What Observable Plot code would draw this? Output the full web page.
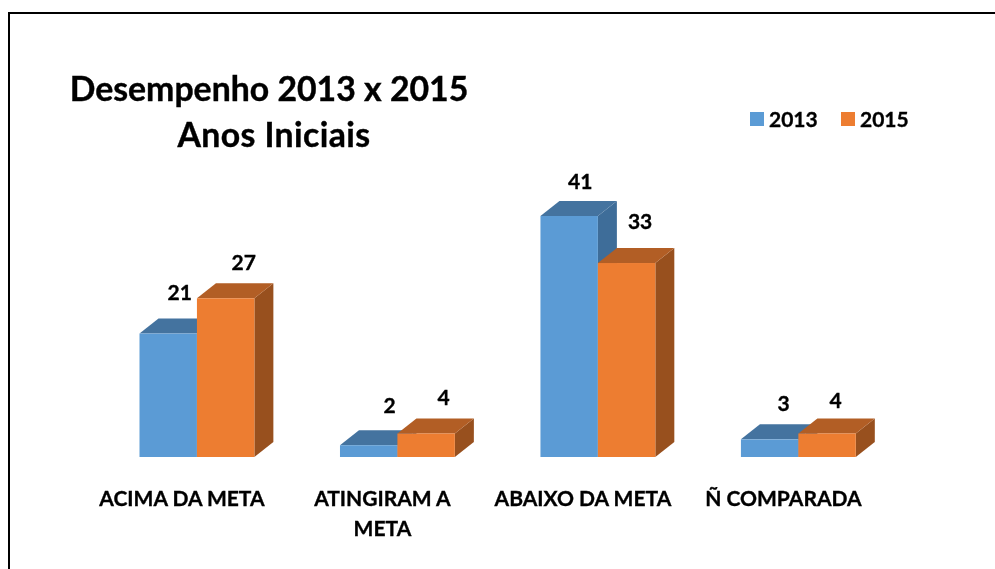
<!DOCTYPE html>
<html lang="pt">
<head>
<meta charset="utf-8">
<script src="https://cdn.jsdelivr.net/npm/d3@7"></script>
<script src="https://cdn.jsdelivr.net/npm/@observablehq/plot@0.6"></script>
<style>
html,body{margin:0;padding:0;background:#fff;width:995px;height:569px;overflow:hidden}
#frame{position:relative;width:995px;height:569px;font-family:Lato,sans-serif;font-weight:700;color:#000;filter:blur(0.35px)}
#border{position:absolute;left:8px;top:12px;right:-4px;bottom:-4px;border:2.5px solid #000;box-sizing:border-box}
#title{position:absolute;left:39px;width:460px;top:65px;text-align:center;font-size:33.8px;line-height:46px;-webkit-text-stroke:0.4px #000}
#title span{position:relative;left:5px;letter-spacing:0.4px}
#legend{position:absolute;left:750px;top:105px;display:flex;align-items:center;font-size:21px;line-height:28px;height:28px;-webkit-text-stroke:0.35px #000}
#legend span.sw{display:inline-block;width:14px;height:14px;margin-right:5px;-webkit-text-stroke:0}
#legend span.lb{display:inline-block;width:72px}
#chart{position:absolute;left:0;top:0}
#chart svg{background:transparent}
#chart text{stroke:#000;stroke-width:0.35px}
</style>
</head>
<body>
<div id="frame">
  <div id="border"></div>
  <div id="chart"></div>
  <div id="title">Desempenho 2013 x 2015<br><span>Anos Iniciais</span></div>
  <div id="legend"></div>
</div>
<script>
const categories = ["ACIMA DA META", "ATINGIRAM A\nMETA", "ABAIXO DA META", "Ñ COMPARADA"];
const years = ["2013", "2015"];
const values2013 = [21, 2, 41, 3];
const values2015 = [27, 4, 33, 4];

const frontColors = ["#5B9BD5", "#ED7D31"];
const topColors = ["#44739F", "#B25E25"];
const sideColors = ["#3E6D99", "#98501E"];
const depthX = 19, depthY = 15;

const rows = categories.flatMap((category, i) => [
  {category, year: years[0], value: values2013[i]},
  {category, year: years[1], value: values2015[i]}
]);

// hand placed label nudges of the original, in the order of rows
const labelNudges = [[11,-41],[17.5,-36],[20.5,-39],[17,-36],[10.5,-34],[13,-41],[13.5,-36],[8,-33]];

function extrude(index, scales, values, dimensions, context, next) {
  const g = next(index, scales, values, dimensions, context);
  const svgNS = "http://www.w3.org/2000/svg";
  d3.select(g).selectAll("rect").each(function() {
    const x = +this.getAttribute("x"), y = +this.getAttribute("y"),
          w = +this.getAttribute("width"), h = +this.getAttribute("height");
    const k = this.getAttribute("fill") === frontColors[0] ? 0 : 1;
    const add = (pts, fill) => {
      const p = document.createElementNS(svgNS, "polygon");
      p.setAttribute("points", pts.map(q => q.join(",")).join(" "));
      p.setAttribute("fill", fill);
      this.parentNode.insertBefore(p, this);
    };
    add([[x+w,y],[x+w+depthX,y-depthY],[x+w+depthX,y+h-depthY],[x+w,y+h]], sideColors[k]);
    add([[x,y],[x+depthX,y-depthY],[x+w+depthX,y-depthY],[x+w,y]], topColors[k]);
  });
  return g;
}

const plot = Plot.plot({
  width: 995,
  height: 569,
  marginLeft: 96.7,
  marginRight: 96.4,
  marginTop: 216,
  marginBottom: 112,
  style: {fontFamily: "Lato, sans-serif", fontWeight: 700, background: "transparent", overflow: "visible"},
  fx: {domain: categories, paddingInner: 0.427, paddingOuter: 0.2135, round: false, axis: null, label: null},
  x: {domain: years, padding: 0, round: false, axis: null, label: null},
  y: {domain: [0, 41], axis: null, label: null},
  color: {domain: years, range: frontColors},
  marks: [
    Plot.barY(rows, {fx: "category", x: "year", y: "value", fill: "year", render: extrude}),
    ...rows.map((d, i) => Plot.text([d], {
      fx: "category", x: "year", y: "value", text: "value",
      dx: labelNudges[i][0], dy: labelNudges[i][1],
      fontSize: 21, fontWeight: 700, fill: "#000"
    })),
    Plot.axisFx({
      anchor: "bottom", tickSize: 0, tickPadding: 27, dx: -15.5,
      fontSize: 21, fontWeight: 700, fill: "#000", lineHeight: 1.43,
      textOverflow: null, lineWidth: 100, label: null
    })
  ]
});
document.getElementById("chart").appendChild(plot);

const legend = d3.select("#legend");
years.forEach((y, i) => {
  legend.append("span").attr("class", "sw").style("background", frontColors[i]);
  legend.append("span").attr("class", "lb").text(y);
});
</script>
</body>
</html>
